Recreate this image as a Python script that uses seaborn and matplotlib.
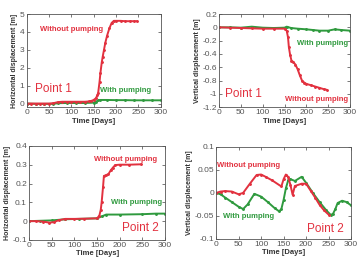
import matplotlib
matplotlib.use('Agg')
import matplotlib.pyplot as plt
import seaborn as sns

RED = '#e2313f'
GREEN = '#2f9a3e'

# --- Point 1, horizontal displacement ---
p1h_wo_days = [0, 10, 20, 30, 40, 50, 60, 70, 80, 90, 100, 110, 120, 130, 140, 145, 150, 155, 158, 160,
               163, 165, 168, 170, 173, 176, 180, 185, 190, 195, 200, 210, 220, 230, 240, 247]
p1h_wo = [0, 0, 0, 0, 0, 0, 0.02, 0.08, 0.1, 0.1, 0.1, 0.1, 0.1, 0.1, 0.12, 0.15, 0.2, 0.3, 0.45, 0.6,
          1.2, 1.7, 2.3, 2.6, 3.0, 3.4, 3.8, 4.2, 4.5, 4.62, 4.62, 4.62, 4.6, 4.6, 4.6, 4.6]
p1h_w_days = [0, 20, 40, 60, 70, 90, 110, 130, 150, 155, 160, 165, 180, 200, 220, 240, 260, 280, 300]
p1h_w = [0, -0.02, -0.02, -0.02, 0.02, 0.03, 0.03, 0.03, 0.05, 0.1, 0.18, 0.2, 0.2, 0.19, 0.19, 0.18, 0.18, 0.18, 0.18]

# --- Point 1, vertical displacement ---
p1v_wo_days = [0, 25, 50, 75, 100, 125, 150, 155, 158, 160, 163, 166, 170, 175, 180, 185, 190, 195,
               200, 210, 220, 230, 240, 247]
p1v_wo = [0, -0.005, -0.01, -0.015, -0.02, -0.02, -0.02, -0.05, -0.15, -0.3, -0.42, -0.5, -0.52, -0.56,
          -0.63, -0.72, -0.8, -0.83, -0.85, -0.87, -0.89, -0.91, -0.93, -0.94]
p1v_w_days = [0, 25, 50, 75, 100, 125, 150, 155, 165, 180, 200, 215, 230, 250, 265, 280, 300]
p1v_w = [0, 0, -0.005, 0.01, -0.005, -0.01, -0.005, 0.01, -0.01, -0.02, -0.03, -0.04, -0.05, -0.05, -0.03, -0.04, -0.05]

# --- Point 2, horizontal displacement ---
p2h_wo_days = [0, 15, 30, 45, 55, 65, 80, 100, 120, 150, 155, 158, 160, 163, 165, 170, 175, 180, 185,
               190, 200, 220, 247]
p2h_wo = [0, 0, -0.002, -0.008, -0.005, 0.005, 0.012, 0.012, 0.013, 0.015, 0.03, 0.06, 0.1, 0.18, 0.24,
          0.245, 0.25, 0.27, 0.285, 0.298, 0.3, 0.3, 0.302]
p2h_w_days = [0, 25, 50, 80, 110, 150, 160, 170, 200, 250, 280, 300]
p2h_w = [0, 0.002, 0.004, 0.01, 0.012, 0.015, 0.025, 0.035, 0.035, 0.037, 0.04, 0.04]

# --- Point 2, vertical displacement ---
p2v_wo_days = [0, 10, 20, 35, 50, 60, 75, 90, 100, 110, 125, 145, 150, 155, 160, 165, 170, 175, 190,
               200, 210, 220, 230, 240, 250]
p2v_wo = [0, 0.003, 0.004, 0.003, -0.003, 0.0, 0.02, 0.039, 0.04, 0.035, 0.027, 0.014, 0.03, 0.04, 0.035,
          0.018, -0.004, 0.015, 0.02, 0.02, 0.005, -0.01, -0.026, -0.038, -0.047]
p2v_w_days = [0, 10, 20, 35, 50, 60, 70, 85, 100, 115, 130, 140, 145, 150, 155, 160, 165, 175, 190,
              200, 215, 230, 245, 255, 260, 265, 270, 280, 290, 300]
p2v_w = [0, -0.003, -0.01, -0.02, -0.03, -0.035, -0.025, -0.002, -0.008, -0.02, -0.033, -0.04, -0.035,
         -0.015, 0.01, 0.027, 0.03, 0.026, 0.035, 0.022, 0.0, -0.02, -0.038, -0.048, -0.045, -0.035,
         -0.022, -0.017, -0.02, -0.027]

sns.set_style('ticks')
plt.rcParams['font.family'] = ['Liberation Sans', 'DejaVu Sans']

fig = plt.figure(figsize=(3.59, 2.6), dpi=100)
axes = [
    fig.add_axes([0.074, 0.588, 0.374, 0.358]),
    fig.add_axes([0.610, 0.588, 0.365, 0.358]),
    fig.add_axes([0.081, 0.077, 0.379, 0.362]),
    fig.add_axes([0.602, 0.081, 0.376, 0.354]),
]

panels = [
    (p1h_wo_days, p1h_wo, p1h_w_days, p1h_w, 'Horizontal displacement [m]', (-0.2, 5), [0, 1, 2, 3, 4, 5]),
    (p1v_wo_days, p1v_wo, p1v_w_days, p1v_w, 'Vertical displacement [m]', (-1.2, 0.2),
     [-1.2, -1, -0.8, -0.6, -0.4, -0.2, 0, 0.2]),
    (p2h_wo_days, p2h_wo, p2h_w_days, p2h_w, 'Horizontal displacement [m]', (-0.1, 0.4),
     [-0.1, 0, 0.1, 0.2, 0.3, 0.4]),
    (p2v_wo_days, p2v_wo, p2v_w_days, p2v_w, 'Vertical displacement [m]', (-0.1, 0.1),
     [-0.1, -0.05, 0, 0.05, 0.1]),
]

for ax, (dwo, vwo, dw, vw, ylab, ylim, yticks) in zip(axes, panels):
    sns.lineplot(x=dw, y=vw, ax=ax, color=GREEN, lw=1.4, marker='o', markersize=1.3, mec=GREEN)
    sns.lineplot(x=dwo, y=vwo, ax=ax, color=RED, lw=1.4, marker='o', markersize=1.3, mec=RED)
    ax.set_xlim(0, 300)
    ax.set_ylim(*ylim)
    ax.set_xticks([0, 50, 100, 150, 200, 250, 300])
    ax.set_yticks(yticks)
    ax.set_yticklabels([f'{t:g}' for t in yticks])
    ax.tick_params(direction='in', top=True, right=True, labelsize=6, length=2, width=0.5, pad=1.5,
                   colors='#444444', labelcolor='#555555')
    for s in ax.spines.values():
        s.set_linewidth(0.6)
        s.set_color('#555555')
    ax.set_xlabel('Time [Days]', fontsize=5.5, fontweight='bold', labelpad=1, color='#333333')
    ax.set_ylabel(ylab, fontsize=5, fontweight='bold', labelpad=1, color='#333333')

lab = dict(fontsize=5.5, fontweight='bold', ha='center', va='center')
pt = dict(fontsize=8.5, ha='center', va='center', color=RED)

axes[0].text(101, 4.16, 'Without pumping', color=RED, **lab)
axes[0].text(222, 0.75, 'With pumping', color=GREEN, **lab)
axes[0].text(59, 0.81, 'Point 1', **pt)

axes[1].text(238, -0.24, 'With pumping', color=GREEN, **lab)
axes[1].text(224, -1.09, 'Without pumping', color=RED, **lab)
axes[1].text(55, -1.01, 'Point 1', **pt)

axes[2].text(212, 0.325, 'Without pumping', color=RED, **lab)
axes[2].text(238, 0.097, 'With pumping', color=GREEN, **lab)
axes[2].text(245, -0.036, 'Point 2', **pt)

axes[3].text(71, 0.059, 'Without pumping', color=RED, **lab)
axes[3].text(73, -0.052, 'With pumping', color=GREEN, **lab)
axes[3].text(242, -0.078, 'Point 2', **pt)

fig.savefig('out.png', dpi=100)
